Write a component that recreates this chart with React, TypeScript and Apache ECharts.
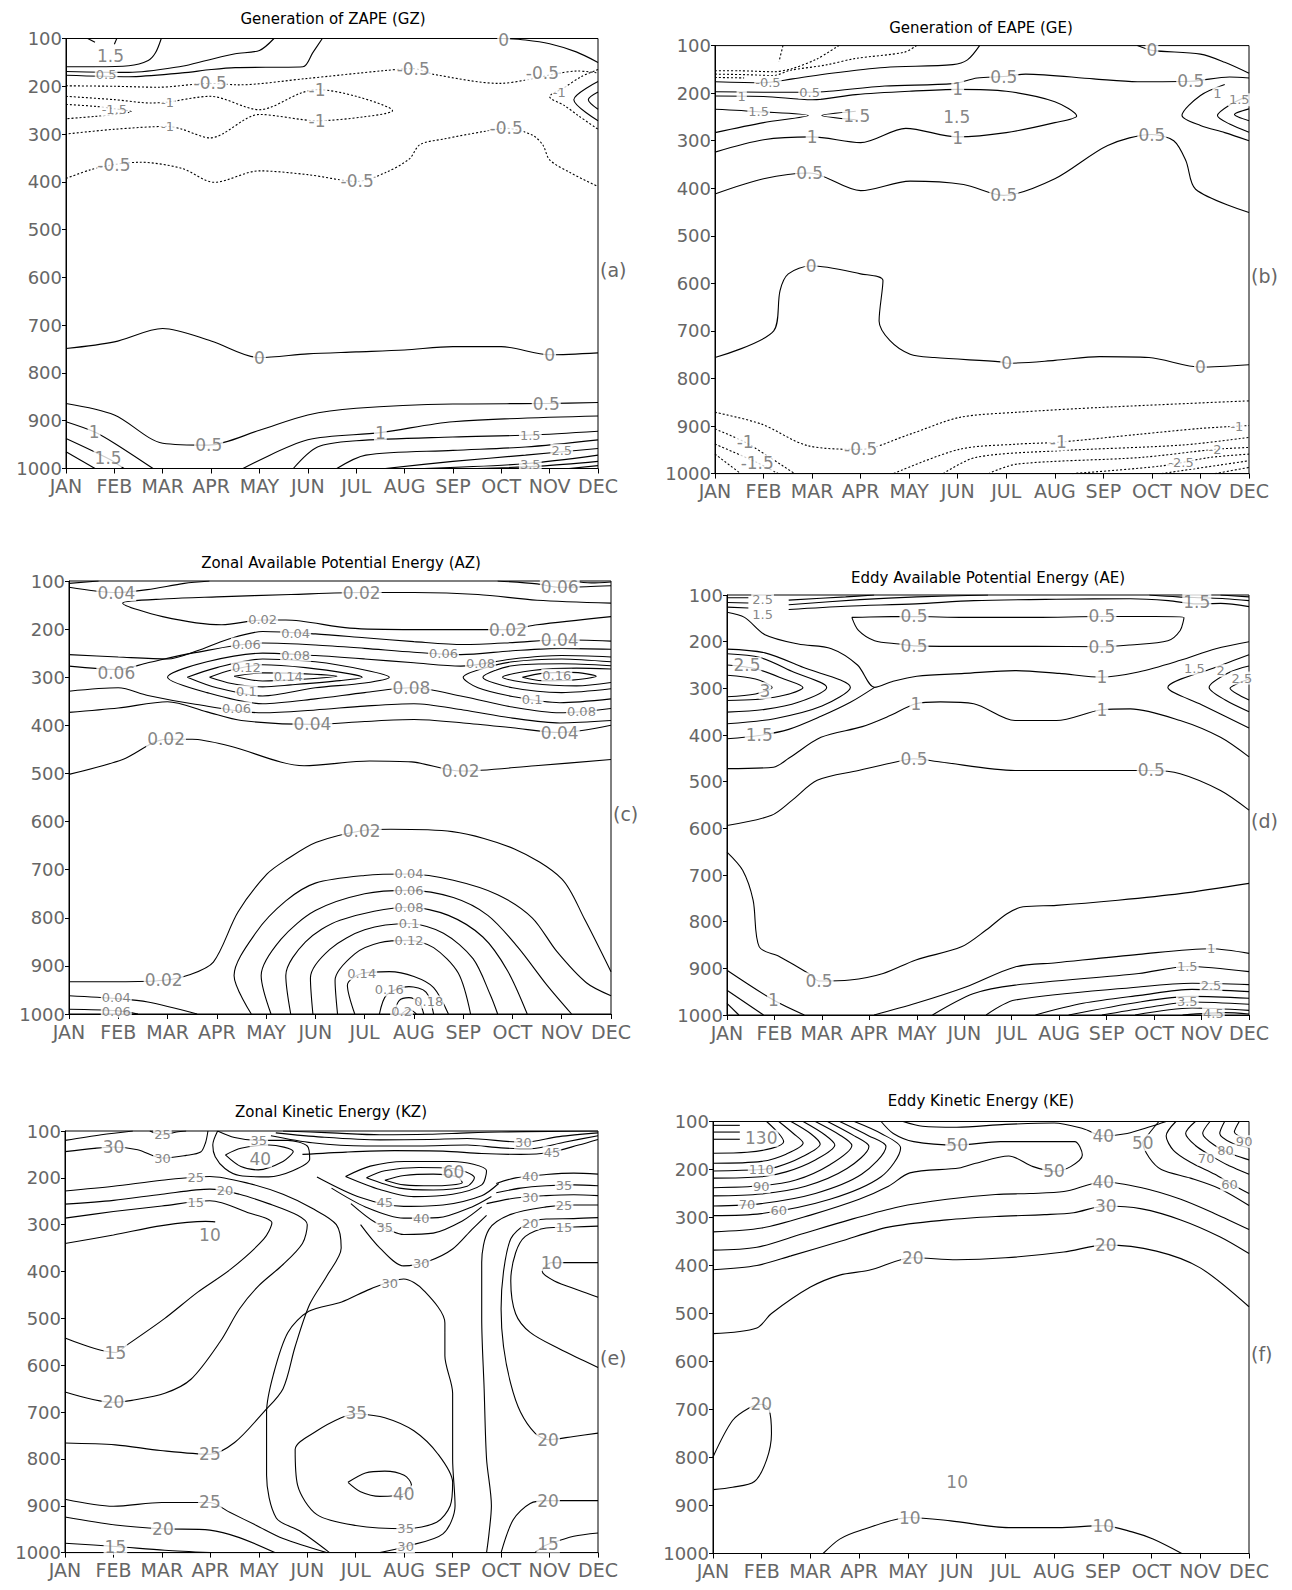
import React, { useEffect, useRef } from 'react';
import * as echarts from 'echarts';

type Contour = { v: number; pts: number[][] };
type Lbl = [number, number, string] | [number, number, string, number];

const MONTHS = ['JAN', 'FEB', 'MAR', 'APR', 'MAY', 'JUN', 'JUL', 'AUG', 'SEP', 'OCT', 'NOV', 'DEC'];
const S = 13; // size of labels in dense stacks

// ---------------- (a) Generation of ZAPE (GZ) ----------------
const gzLines: Contour[] = [
  { v: 2, pts: [[0.45, 100], [0.6, 108]] },
  { v: 2, pts: [[1.05, 100], [1.0, 112]] },
  { v: 1.5, pts: [[0, 159], [0.6, 159], [1.3, 157], [1.7, 146], [1.85, 130], [1.97, 100]] },
  { v: 1, pts: [[0, 169], [1.3, 171], [2.4, 158], [2.9, 146], [3.5, 132], [4.0, 125], [4.3, 100]] },
  { v: 0.5, pts: [[0, 177], [1.3, 180], [2.4, 172], [3.0, 165], [3.5, 161], [4.9, 159], [5.1, 130], [5.3, 100]] },
  { v: -0.5, pts: [[0, 199], [1.0, 200], [1.9, 202], [2.98, 194], [3.56, 197], [4.95, 184], [6.6, 167], [7.18, 163], [7.6, 175], [8.97, 194], [9.56, 186], [10.07, 175], [10.58, 168], [11, 172]] },
  { v: -1, pts: [[0, 221], [1.0, 228], [1.76, 235], [2.1, 233], [2.98, 221], [4.0, 249], [4.86, 214], [5.19, 207], [6.0, 221], [6.75, 251], [6.16, 264], [5.19, 272], [4.0, 259], [2.98, 308], [2.4, 290], [2.1, 284], [1.0, 290], [0, 300]] },
  { v: -1.5, pts: [[0, 238], [0.6, 242], [1.0, 247], [1.35, 253], [1.0, 259], [0.6, 263], [0, 268]] },
  { v: -0.5, pts: [[0, 393], [0.5, 375], [0.99, 364], [1.53, 359], [2.4, 372], [3.06, 401], [4.0, 377], [5.0, 385], [6.02, 399], [6.6, 381], [7.1, 352], [7.32, 322], [7.83, 310], [8.62, 295], [9.1, 288], [9.64, 302], [9.86, 323], [10.0, 354], [10.43, 381], [11, 410]] },
  { v: -1, pts: [[11, 165], [10.65, 180], [10.3, 203], [10.0, 222], [10.3, 240], [10.6, 262], [11, 290]] },
  { v: 0.5, pts: [[11, 190], [10.5, 228], [11, 272]] },
  { v: 1, pts: [[11, 212], [10.8, 228], [11, 248]] },
  { v: 0, pts: [[9.05, 100], [9.5, 103], [10.0, 111], [10.55, 128], [11, 150]] },
  { v: 0, pts: [[0, 749], [1.0, 735], [2.0, 707], [3.0, 733], [4.0, 768], [5.0, 760], [6.0, 756], [7.0, 752], [8.0, 745], [9.0, 745], [10.0, 762], [11, 758]] },
  { v: 0.5, pts: [[0, 864], [1.0, 888], [2.0, 947], [2.95, 951], [4.0, 920], [5.0, 888], [6.0, 874], [8.0, 865], [9.93, 864], [11, 862]] },
  { v: 1, pts: [[0, 902], [0.58, 923], [1.0, 947], [1.8, 1000]] },
  { v: 1, pts: [[3.66, 1000], [5.0, 940], [6.5, 925], [8.0, 902], [11, 890]] },
  { v: 1.5, pts: [[0, 937], [0.87, 979], [1.2, 1000]] },
  { v: 2, pts: [[0, 965], [0.6, 1000]] },
  { v: 1.5, pts: [[4.7, 1000], [5.2, 955], [6.0, 942], [8.0, 934], [9.6, 930], [11, 922]] },
  { v: 2, pts: [[5.6, 1000], [6.2, 972], [8.0, 962], [9.5, 955], [11, 940]] },
  { v: 2.5, pts: [[6.6, 1000], [8.0, 985], [9.5, 972], [11, 958]] },
  { v: 3, pts: [[7.4, 1000], [9.5, 990], [11, 972]] },
  { v: 3.5, pts: [[8.5, 1000], [9.8, 995], [11, 985]] },
  { v: 4, pts: [[10.4, 1000], [11, 994]] },
];
const gzLabels: Lbl[] = [
  [0.92, 137, '1.5'], [0.83, 175, '0.5', S], [2.98, 194, '-0.5'], [7.18, 163, '-0.5'], [9.85, 172, '-0.5'],
  [2.1, 233, '-1', S], [5.19, 207, '-1'], [5.19, 272, '-1'], [2.1, 284, '-1', S], [1.0, 249, '-1.5', S],
  [0.99, 364, '-0.5'], [6.02, 399, '-0.5'], [9.1, 288, '-0.5'], [10.2, 212, '-1', S], [9.05, 104, '0'],
  [4.0, 768, '0'], [10.0, 762, '0'], [2.95, 951, '0.5'], [9.93, 864, '0.5'], [0.58, 923, '1'], [6.5, 925, '1'],
  [0.87, 979, '1.5'], [9.6, 930, '1.5', S], [10.25, 962, '2.5', S], [9.6, 992, '3.5', S],
];

// ---------------- (b) Generation of EAPE (GE) ----------------
const geLines: Contour[] = [
  { v: -1, pts: [[1.4, 100], [1.32, 133]] },
  { v: -0.5, pts: [[0, 153], [0.5, 153], [1.2, 155], [1.6, 148], [2.1, 128], [2.55, 100]] },
  { v: -0.5, pts: [[0, 160], [0.6, 161], [1.2, 163], [1.55, 152], [2.27, 141], [2.9, 127], [3.9, 114], [4.15, 100]] },
  { v: -1, pts: [[0, 167], [0.6, 168]] },
  { v: 0, pts: [[0, 176], [1.0, 178], [1.6, 170], [2.4, 158], [3.5, 146], [4.9, 140], [5.2, 130], [5.45, 100]] },
  { v: 0.5, pts: [[0, 197], [1.0, 198], [1.95, 198], [2.35, 196], [3.5, 185], [4.9, 180], [5.4, 168], [5.95, 165], [6.4, 160], [7.8, 170], [8.7, 176], [9.8, 175], [10.6, 166], [11, 168]] },
  { v: 1, pts: [[0, 206], [1.0, 207], [2.0, 214], [2.9, 203], [4.0, 196], [5.0, 192], [6.0, 196], [7.0, 218], [7.45, 248], [7.0, 262], [6.0, 283], [5.0, 292], [3.93, 274], [3.0, 304], [2.0, 292], [1.0, 298], [0, 324]] },
  { v: 1.5, pts: [[0, 234], [0.9, 239], [1.92, 247], [1.0, 262], [0, 283]] },
  { v: 1.5, pts: [[2.9, 238], [2.2, 247], [2.9, 256]] },
  { v: 0.5, pts: [[0, 412], [1.0, 380], [1.95, 368], [3.0, 405], [4.02, 385], [5.12, 392], [5.95, 415], [7.0, 380], [8.09, 310], [9.0, 287], [9.45, 300], [9.7, 342], [9.9, 402], [11, 451]] },
  { v: 1, pts: [[10.5, 182], [10.0, 205], [9.62, 247], [10.0, 268], [10.5, 283], [11, 300]] },
  { v: 1.5, pts: [[11, 205], [10.6, 225], [10.35, 247], [10.6, 265], [11, 282]] },
  { v: 2, pts: [[11, 233], [10.7, 245], [11, 258]] },
  { v: 0, pts: [[8.7, 100], [9.0, 110], [10.0, 118], [10.5, 135], [11, 158]] },
  { v: 0, pts: [[0, 756], [1.21, 700], [1.34, 615], [1.51, 580], [1.98, 563], [3.0, 580], [3.46, 594], [3.38, 679], [3.6, 720], [4.02, 749], [4.52, 756], [5.88, 765], [6.01, 768], [7.0, 762], [7.92, 754], [8.94, 756], [10.0, 776], [11, 771]] },
  { v: -0.5, pts: [[0, 871], [0.96, 896], [1.9, 941], [3.0, 949], [4.02, 917], [5.03, 882], [6.22, 871], [7.92, 861], [11, 847]] },
  { v: -1, pts: [[0, 906], [0.62, 934], [1.13, 966], [1.64, 1000]] },
  { v: -1, pts: [[3.68, 1000], [5.03, 949], [6.22, 938], [7.07, 934], [8.77, 917], [10.0, 905], [11, 899]] },
  { v: -1.5, pts: [[0, 938], [0.87, 977], [1.3, 1000]] },
  { v: -1.5, pts: [[4.7, 1000], [5.37, 966], [7.07, 952], [9.62, 940], [11, 924]] },
  { v: -2, pts: [[0, 959], [0.53, 1000]] },
  { v: -2, pts: [[5.63, 1000], [6.22, 980], [8.77, 966], [10.3, 949], [11, 945]] },
  { v: -2.5, pts: [[7.36, 1000], [9.19, 984], [10.2, 966], [11, 959]] },
  { v: -3, pts: [[9.2, 1000], [11, 973]] },
  { v: -3.5, pts: [[10.3, 1000], [11, 987]] },
];
const geLabels: Lbl[] = [
  [1.09, 177, '-0.5', S], [1.95, 198, '0.5', S], [0.55, 206, '1', S], [0.9, 239, '1.5', S], [2.92, 247, '1.5'],
  [4.98, 250, '1.5'], [2.0, 292, '1'], [5.0, 294, '1'], [5.0, 192, '1'], [5.95, 165, '0.5'],
  [9.8, 175, '0.5'], [1.95, 368, '0.5'], [5.95, 415, '0.5'], [9.0, 287, '0.5'], [9.0, 110, '0'],
  [10.35, 200, '1', S], [10.8, 214, '1.5', S],
  [1.98, 563, '0'], [6.01, 768, '0'], [10.0, 776, '0'], [3.0, 949, '-0.5'], [0.62, 934, '-1'],
  [7.07, 934, '-1'], [0.87, 977, '-1.5'], [10.75, 901, '-1', S], [10.3, 949, '-2', S], [9.6, 976, '-2.5', S],
];

// ---------------- (c) Zonal Available Potential Energy (AZ) ----------------
const azLines: Contour[] = [
  { v: 0.04, pts: [[0, 113], [0.96, 124], [1.59, 118], [2.34, 105], [2.85, 100]] },
  { v: 0.06, pts: [[0, 105], [0.6, 100]] },
  { v: 0.02, pts: [[11, 146], [9.5, 140], [8.3, 128], [7, 124], [5.94, 124], [4.5, 128], [3.0, 133], [2.0, 137], [1.09, 146], [1.9, 174], [3.1, 191], [3.93, 181], [4.4, 181], [5.7, 198], [7, 201], [8.91, 201], [9.5, 191], [11, 174]] },
  { v: 0.04, pts: [[8.7, 100], [9.5, 106], [9.96, 113], [10.5, 112], [11, 110]] },
  { v: 0.06, pts: [[10.2, 100], [10.6, 104], [11, 102]] },
  { v: 0.04, pts: [[0, 253], [1, 258], [2, 262], [2.6, 245], [3.2, 222], [3.93, 205], [5, 210], [6, 218], [7, 226], [8, 232], [9, 228], [9.96, 222], [11, 225]] },
  { v: 0.06, pts: [[0, 277], [1.0, 284], [1.6, 270], [2.5, 250], [3.93, 229], [5, 233], [6, 240], [7, 248], [7.95, 253], [9, 245], [10, 240], [11, 242]] },
  { v: 0.08, pts: [[11, 258], [10, 255], [9, 262], [7.95, 277], [7, 270], [6, 262], [5, 255], [3.93, 250], [2.8, 268], [2.0, 300], [2.8, 332], [3.93, 355], [5, 345], [6, 332], [6.95, 322], [8, 340], [9, 362], [9.96, 374], [11, 365]] },
  { v: 0.1, pts: [[2.4, 300], [3, 280], [3.93, 262], [5, 268], [6.0, 285], [6.5, 300], [6, 312], [5, 322], [3.93, 339], [3, 322], [2.4, 300]] },
  { v: 0.12, pts: [[2.85, 300], [3.3, 285], [3.93, 274], [4.8, 280], [5.7, 293], [5.95, 300], [5.5, 307], [4.5, 316], [3.93, 320], [3.3, 313], [2.85, 300]] },
  { v: 0.14, pts: [[3.35, 298], [3.93, 291], [4.6, 292], [5.44, 298], [4.6, 305], [3.93, 308], [3.35, 298]] },
  { v: 0.1, pts: [[11, 268], [10, 262], [9, 268], [8.3, 285], [8.0, 300], [8.3, 322], [9, 340], [9.96, 353], [11, 345]] },
  { v: 0.12, pts: [[11, 276], [10, 272], [9, 276], [8.4, 300], [9, 322], [10, 332], [11, 324]] },
  { v: 0.14, pts: [[11, 283], [10.3, 281], [9.4, 286], [8.8, 300], [9.4, 313], [10.3, 318], [11, 311]] },
  { v: 0.16, pts: [[9.2, 300], [9.6, 292], [10.2, 290], [10.7, 298], [10.2, 306], [9.6, 307], [9.2, 300]] },
  { v: 0.06, pts: [[0, 329], [1, 322], [1.6, 338], [2.5, 355], [3.93, 374], [5, 368], [6, 360], [7, 355], [8, 368], [9, 385], [9.96, 395], [11, 390]] },
  { v: 0.04, pts: [[0, 373], [1, 364], [2, 351], [2.8, 372], [3.5, 390], [4.94, 398], [6, 392], [7, 388], [8, 395], [9, 405], [9.96, 415], [11, 400]] },
  { v: 0.02, pts: [[0, 502], [1.09, 471], [1.97, 429], [2.5, 429], [3.26, 443], [4.77, 484], [6.1, 474], [6.95, 476], [7.95, 495], [9.46, 484], [11, 471]] },
  { v: 0.02, pts: [[0, 933], [1.0, 933], [1.92, 930], [2.43, 919], [2.93, 892], [3.43, 788], [4.02, 709], [4.43, 678], [5.02, 643], [5.94, 619], [6.53, 616], [7.78, 621], [9.04, 657], [10.0, 719], [10.46, 802], [11, 912]] },
  { v: 0.04, pts: [[3.7, 1000], [3.35, 920], [3.8, 830], [4.4, 765], [5.0, 728], [6.0, 712], [6.9, 709], [7.8, 722], [8.7, 752], [9.4, 800], [9.9, 870], [10.5, 935], [11, 962]] },
  { v: 0.06, pts: [[4.1, 1000], [3.9, 920], [4.3, 845], [5.0, 785], [6.0, 750], [6.9, 743], [7.8, 758], [8.5, 795], [9.1, 860], [9.7, 940], [10.2, 1000]] },
  { v: 0.08, pts: [[4.5, 1000], [4.4, 920], [4.8, 850], [5.5, 805], [6.9, 778], [7.7, 795], [8.4, 840], [8.9, 910], [9.3, 1000]] },
  { v: 0.1, pts: [[4.95, 1000], [4.9, 925], [5.3, 865], [6.0, 825], [6.9, 812], [7.6, 832], [8.2, 885], [8.55, 960], [8.7, 1000]] },
  { v: 0.12, pts: [[5.45, 1000], [5.4, 930], [5.8, 875], [6.3, 852], [6.9, 847], [7.4, 862], [7.9, 915], [8.15, 1000]] },
  { v: 0.14, pts: [[5.8, 1000], [5.65, 940], [5.94, 916], [6.5, 912], [7.0, 922], [7.4, 945], [7.7, 1000]] },
  { v: 0.16, pts: [[6.3, 1000], [6.45, 960], [6.9, 943], [7.25, 955], [7.4, 1000]] },
  { v: 0.18, pts: [[6.6, 1000], [6.7, 972], [6.9, 966], [7.1, 975], [7.2, 1000]] },
  { v: 0.2, pts: [[6.75, 1000], [6.9, 990], [7.05, 1000]] },
  { v: 0.04, pts: [[0, 962], [0.96, 968], [1.6, 975], [2.6, 1000]] },
  { v: 0.06, pts: [[0, 990], [0.96, 993], [1.4, 1000]] },
];
const azLabels: Lbl[] = [
  [0.96, 124, '0.04'], [5.94, 124, '0.02'], [9.96, 112, '0.06'], [3.93, 181, '0.02', S], [8.91, 201, '0.02'],
  [4.6, 209, '0.04', S], [3.6, 231, '0.06', S], [4.6, 254, '0.08', S], [3.6, 279, '0.12', S], [4.45, 298, '0.14', S],
  [3.6, 330, '0.1', S], [3.4, 364, '0.06', S], [4.94, 398, '0.04'], [0.96, 291, '0.06'], [9.96, 222, '0.04'],
  [7.6, 251, '0.06', S], [8.35, 271, '0.08', S], [6.95, 322, '0.08'], [9.9, 296, '0.16', S], [9.4, 346, '0.1', S],
  [10.4, 371, '0.08', S], [9.96, 415, '0.04'], [1.97, 429, '0.02'], [7.95, 495, '0.02'],
  [5.94, 619, '0.02'], [6.9, 709, '0.04', S], [6.9, 743, '0.06', S], [6.9, 778, '0.08', S], [6.9, 812, '0.1', S],
  [6.9, 847, '0.12', S], [5.94, 916, '0.14', S], [6.5, 950, '0.16', S], [7.3, 975, '0.18', S], [6.75, 994, '0.2', S],
  [1.92, 930, '0.02'], [0.96, 966, '0.04', S], [0.96, 994, '0.06', S],
];

// ---------------- (d) Eddy Available Potential Energy (AE) ----------------
const aeLines: Contour[] = [
  { v: 2.5, pts: [[0, 106], [0.45, 106]] },
  { v: 2.5, pts: [[1.3, 111], [2.5, 104], [3.1, 100]] },
  { v: 2, pts: [[0, 116], [0.45, 117]] },
  { v: 2, pts: [[1.3, 121], [2.8, 110], [4.0, 104], [5.5, 100]] },
  { v: 1.5, pts: [[0, 126], [0.45, 128]] },
  { v: 1.5, pts: [[1.3, 131], [2.5, 124], [3.98, 119], [5.2, 112], [6.94, 109], [8.5, 108], [9.3, 112], [9.9, 119], [10.4, 118], [11, 125]] },
  { v: 2, pts: [[8.9, 100], [9.5, 104], [10.0, 106], [10.5, 108], [11, 112]] },
  { v: 2.5, pts: [[10.4, 100], [11, 104]] },
  { v: 0.5, pts: [[2.63, 148], [3.0, 147], [3.94, 146], [5.0, 148], [6.5, 148], [7.9, 146], [9.0, 146], [9.63, 148], [9.55, 176], [9.29, 198], [8.5, 207], [7.9, 211], [6.5, 210], [5.0, 210], [3.94, 209], [3.63, 205], [3.11, 198], [2.77, 176], [2.63, 148]] },
  { v: 1, pts: [[0, 137], [0.37, 148], [0.8, 185], [1.5, 205], [2.2, 215], [2.75, 250], [3.11, 298], [3.5, 285], [4.0, 274], [5.0, 268], [6.07, 262], [7.0, 268], [7.9, 276], [8.67, 265], [9.55, 240], [10.3, 215], [11, 200]] },
  { v: 1.5, pts: [[0, 408], [0.68, 401], [1.3, 388], [1.98, 360], [2.6, 330], [3.11, 298]] },
  { v: 1, pts: [[0, 472], [0.98, 469], [1.3, 450], [1.98, 405], [2.85, 382], [3.4, 360], [3.98, 333], [4.5, 329], [5.2, 333], [6.07, 369], [6.94, 369], [7.9, 346], [8.5, 344], [9.55, 369], [10.4, 405], [11, 447]] },
  { v: 1.5, pts: [[0, 216], [0.8, 224], [1.6, 255], [2.6, 298], [2.0, 338], [1.0, 365], [0, 376]] },
  { v: 2, pts: [[0, 226], [0.7, 234], [1.4, 265], [2.1, 298], [1.5, 330], [0.8, 345], [0, 351]] },
  { v: 2.5, pts: [[0, 250], [0.6, 258], [1.2, 280], [1.6, 298], [1.2, 315], [0.6, 324], [0, 326]] },
  { v: 3, pts: [[0, 272], [0.6, 280], [0.95, 298], [0.6, 312], [0, 318]] },
  { v: 1.5, pts: [[11, 228], [10.3, 255], [9.29, 298], [10.0, 335], [11, 385]] },
  { v: 2, pts: [[11, 252], [10.6, 265], [10.16, 298], [10.5, 325], [11, 350]] },
  { v: 2.5, pts: [[11, 280], [10.75, 290], [10.6, 300], [10.8, 315], [11, 325]] },
  { v: 0.5, pts: [[0, 594], [0.94, 572], [1.37, 540], [1.9, 497], [2.77, 476], [3.46, 460], [3.94, 451], [4.5, 458], [6.07, 476], [7.8, 476], [8.94, 476], [9.55, 483], [10.4, 519], [11, 561]] },
  { v: 0.5, pts: [[0, 651], [0.33, 690], [0.55, 754], [0.68, 854], [1.11, 875], [1.72, 911], [1.94, 927], [2.59, 925], [3.29, 911], [3.98, 882], [4.94, 854], [5.46, 818], [5.9, 783], [6.24, 768], [6.94, 765], [8.24, 754], [9.55, 740], [11, 718]] },
  { v: 1, pts: [[0, 904], [0.98, 968], [1.63, 1000]] },
  { v: 1, pts: [[3.1, 1000], [3.98, 975], [5.03, 940], [6.07, 897], [6.94, 888], [8.68, 870], [10.2, 858], [11, 868]] },
  { v: 1.5, pts: [[0, 947], [0.77, 1000]] },
  { v: 1.5, pts: [[4.33, 1000], [5.2, 954], [6.07, 936], [8.68, 911], [9.7, 896], [11, 907]] },
  { v: 2, pts: [[0, 975], [0.25, 1000]] },
  { v: 2, pts: [[5.46, 1000], [6.07, 968], [8.68, 940], [9.8, 932], [11, 935]] },
  { v: 2.5, pts: [[6.5, 1000], [7.5, 975], [8.7, 958], [9.8, 945], [11, 950]] },
  { v: 3, pts: [[7.2, 1000], [8.7, 972], [9.8, 960], [11, 964]] },
  { v: 3.5, pts: [[7.9, 1000], [8.8, 985], [9.8, 972], [11, 977]] },
  { v: 4, pts: [[8.6, 1000], [9.8, 985], [11, 990]] },
  { v: 4.5, pts: [[9.6, 1000], [10.5, 995], [11, 998]] },
];
const aeLabels: Lbl[] = [
  [0.75, 110, '2.5', S], [0.75, 142, '1.5', S], [9.9, 116, '1.5'], [3.94, 146, '0.5'], [7.9, 146, '0.5'],
  [3.94, 209, '0.5'], [7.9, 211, '0.5'], [0.42, 251, '2.5'], [0.8, 305, '3'], [0.68, 401, '1.5'],
  [3.98, 333, '1'], [7.9, 346, '1'], [7.9, 276, '1'], [9.85, 258, '1.5', S], [10.4, 262, '2', S], [10.85, 278, '2.5', S],
  [3.94, 451, '0.5'], [8.94, 476, '0.5'], [1.94, 927, '0.5'], [0.98, 968, '1'], [10.2, 858, '1', S],
  [9.7, 896, '1.5', S], [10.2, 937, '2.5', S], [9.7, 970, '3.5', S], [10.25, 996, '4.5', S],
];

// ---------------- (e) Zonal Kinetic Energy (KZ) ----------------
const kzLines: Contour[] = [
  { v: 25, pts: [[0, 120], [0.75, 108], [1.4, 100]] },
  { v: 25, pts: [[1.75, 100], [2.01, 108], [2.3, 102], [2.5, 100]] },
  { v: 30, pts: [[0, 144], [0.6, 137], [1.0, 134], [1.5, 140], [2.01, 158], [2.5, 152], [2.8, 145], [2.9, 125], [2.95, 100]] },
  { v: 40, pts: [[3.31, 151], [3.63, 137], [4.21, 130], [4.71, 144], [4.5, 165], [3.99, 183], [3.63, 176], [3.31, 151]] },
  { v: 35, pts: [[3.15, 100], [3.5, 114], [4.0, 120], [4.6, 120], [5.0, 132], [5.05, 160], [4.7, 185], [4.2, 198], [3.6, 195], [3.3, 180], [3.1, 155], [3.05, 130], [3.15, 100]] },
  { v: 25, pts: [[0, 228], [1, 218], [2, 205], [2.99, 197], [3.8, 212], [4.5, 235], [5.1, 265], [5.6, 300], [5.7, 350], [5.4, 410], [5.05, 470], [4.75, 560], [4.5, 650], [4.1, 700], [3.5, 765], [2.99, 790], [1.97, 782], [1.04, 770], [0, 766]] },
  { v: 20, pts: [[0, 256], [1, 248], [2.0, 235], [2.99, 224], [3.6, 235], [4.2, 255], [4.8, 280], [5.0, 300], [4.9, 340], [4.5, 385], [4.0, 430], [3.6, 480], [3.2, 550], [2.6, 630], [2.06, 660], [1.38, 675], [1.0, 679], [0, 657]] },
  { v: 15, pts: [[0, 286], [1.0, 272], [2.0, 260], [2.99, 249], [3.8, 275], [4.27, 296], [4.1, 331], [3.42, 395], [2.74, 444], [2.06, 500], [1.29, 556], [1.04, 573], [0, 542]] },
  { v: 10, pts: [[0, 340], [1.0, 322], [2.0, 302], [2.9, 293], [3.1, 294]] },
  { v: 25, pts: [[0, 886], [1.0, 901], [2.0, 893], [2.99, 893], [3.4, 914], [3.95, 942], [4.5, 970], [5.4, 1000]] },
  { v: 40, pts: [[5.84, 850], [6.2, 830], [6.6, 826], [7.0, 835], [7.15, 855], [6.99, 875], [6.5, 880], [6.1, 870], [5.84, 850]] },
  { v: 35, pts: [[6.01, 703], [6.6, 712], [7.2, 740], [7.7, 790], [8.0, 850], [7.95, 900], [7.67, 935], [7.03, 949], [6.0, 942], [5.2, 919], [4.8, 856], [4.75, 780], [5.2, 740], [5.7, 712], [6.01, 703]] },
  { v: 30, pts: [[5.46, 1000], [4.85, 954], [4.36, 926], [4.16, 835], [4.16, 700], [4.3, 620], [4.6, 530], [5.03, 485], [5.71, 465], [6.31, 437], [6.99, 416], [7.4, 440], [7.84, 510], [7.84, 580], [8.0, 660], [8.0, 800], [8.05, 900], [7.8, 960], [7.03, 987], [6.5, 1000]] },
  { v: 30, pts: [[6.1, 300], [6.5, 350], [6.99, 388], [7.5, 378], [8.0, 352], [8.4, 310], [8.7, 280]] },
  { v: 35, pts: [[5.9, 255], [6.4, 295], [6.99, 321], [7.6, 318], [8.2, 292], [8.6, 262]] },
  { v: 40, pts: [[5.5, 222], [6.2, 262], [6.99, 286], [7.7, 285], [8.4, 262], [8.8, 240]] },
  { v: 45, pts: [[5.2, 198], [6.1, 242], [6.99, 261], [7.8, 258], [8.6, 238], [8.95, 212]] },
  { v: 50, pts: [[5.79, 197], [6.3, 175], [7.0, 165], [8.0, 165], [8.7, 185], [8.6, 215], [8.0, 235], [7.2, 240], [6.5, 225], [5.79, 197]] },
  { v: 55, pts: [[6.22, 200], [6.6, 185], [7.3, 178], [8.0, 180], [8.45, 200], [8.3, 218], [7.6, 226], [6.9, 222], [6.22, 200]] },
  { v: 60, pts: [[6.6, 205], [7.0, 195], [7.6, 192], [8.1, 198], [8.2, 210], [7.6, 217], [7.0, 215], [6.6, 205]] },
  { v: 10, pts: [[4.5, 100], [5.5, 104], [6.5, 108], [7.5, 107], [8.3, 104], [9.0, 102], [10.0, 101], [11, 100]] },
  { v: 20, pts: [[4.35, 104], [5.3, 113], [6.5, 119], [7.5, 118], [8.3, 116], [9.46, 124], [10.2, 112], [11, 104]] },
  { v: 30, pts: [[4.25, 110], [5.1, 125], [6.2, 132], [7.3, 132], [8.3, 130], [9.0, 136], [9.6, 138], [10.3, 124], [11, 110]] },
  { v: 40, pts: [[4.9, 150], [5.8, 145], [6.8, 142], [7.8, 143], [8.6, 148], [9.4, 150], [10.0, 146], [10.6, 130], [11, 118]] },
  { v: 40, pts: [[8.9, 212], [9.3, 200], [9.93, 193], [10.5, 190], [11, 192]] },
  { v: 35, pts: [[8.9, 232], [9.4, 222], [9.93, 217], [10.5, 215], [11, 217]] },
  { v: 30, pts: [[8.7, 255], [9.3, 243], [9.93, 238], [10.5, 236], [11, 238]] },
  { v: 25, pts: [[11, 258], [10.5, 258], [9.93, 262], [9.2, 278], [8.75, 310], [8.6, 380], [8.6, 500], [8.65, 650], [8.7, 800], [8.8, 900], [8.75, 960], [8.7, 1000]] },
  { v: 20, pts: [[11, 285], [10.5, 287], [9.93, 288], [9.5, 300], [9.2, 330], [9.05, 400], [9.0, 480], [9.05, 560], [9.2, 640], [9.4, 700], [9.7, 745], [9.97, 759], [10.5, 752], [11, 745]] },
  { v: 15, pts: [[11, 303], [10.5, 305], [9.93, 307], [9.5, 325], [9.3, 360], [9.2, 420], [9.3, 490], [9.6, 530], [10.2, 565], [10.7, 590], [11, 605]] },
  { v: 10, pts: [[11, 381], [10.5, 381], [10.04, 381], [9.85, 400], [10.1, 420], [10.6, 440], [11, 455]] },
  { v: 20, pts: [[9.0, 1000], [9.25, 930], [9.6, 895], [9.97, 889], [11, 889]] },
  { v: 15, pts: [[9.7, 1000], [9.85, 988], [9.97, 982], [10.5, 965], [11, 958]] },
  { v: 20, pts: [[0, 924], [1.04, 941], [2.02, 949], [2.99, 952], [3.6, 968], [4.33, 1000]] },
  { v: 15, pts: [[0, 980], [1.04, 987], [2.06, 995], [3.0, 1000]] },
];
const kzLabels: Lbl[] = [
  [1.0, 134, '30'], [2.01, 158, '30', S], [2.01, 107, '25', S], [4.0, 120, '35', S], [4.03, 160, '40'],
  [2.7, 200, '25', S], [3.3, 227, '20', S], [2.7, 252, '15', S], [2.99, 321, '10'], [1.04, 573, '15'],
  [1.0, 679, '20'], [2.99, 790, '25'], [2.99, 893, '25'], [2.02, 949, '20'], [1.04, 987, '15'],
  [6.01, 703, '35'], [6.99, 875, '40'], [7.03, 949, '35', S], [7.03, 987, '30', S], [6.7, 425, '30', S],
  [7.35, 382, '30', S], [6.6, 307, '35', S], [7.35, 286, '40', S], [6.6, 253, '45', S], [8.02, 188, '60'],
  [9.46, 124, '30', S], [10.05, 146, '45', S], [9.6, 198, '40', S], [10.3, 216, '35', S], [9.6, 241, '30', S],
  [10.3, 259, '25', S], [9.6, 297, '20', S], [10.3, 306, '15', S], [10.04, 381, '10'], [9.97, 759, '20'],
  [9.97, 889, '20'], [9.97, 982, '15'],
];

// ---------------- (f) Eddy Kinetic Energy (KE) ----------------
const keLines: Contour[] = [
  { v: 140, pts: [[0, 108], [0.55, 108]] },
  { v: 140, pts: [[0, 122], [0.55, 122]] },
  { v: 140, pts: [[0, 137], [0.55, 137]] },
  { v: 130, pts: [[1.1, 100], [1.35, 125], [1.45, 142], [1.2, 156], [0.7, 164], [0, 166]] },
  { v: 120, pts: [[1.35, 100], [1.65, 125], [1.85, 145], [1.5, 168], [1.0, 183], [0, 187]] },
  { v: 110, pts: [[1.6, 100], [2.0, 125], [2.2, 147], [1.8, 175], [1.3, 195], [0.99, 200], [0, 203]] },
  { v: 100, pts: [[1.85, 100], [2.3, 128], [2.5, 149], [2.1, 180], [1.5, 205], [0.99, 215], [0, 218]] },
  { v: 90, pts: [[2.1, 100], [2.6, 128], [2.85, 150], [2.4, 190], [1.7, 222], [0.99, 234], [0, 238]] },
  { v: 80, pts: [[2.35, 100], [2.9, 130], [3.2, 152], [2.75, 198], [1.9, 235], [0.99, 251], [0, 255]] },
  { v: 70, pts: [[2.6, 100], [3.2, 130], [3.55, 152], [3.05, 210], [2.1, 250], [0.99, 271], [0, 276]] },
  { v: 60, pts: [[2.9, 100], [3.45, 125], [3.85, 155], [3.45, 215], [2.4, 262], [0.99, 292], [0, 296]] },
  { v: 50, pts: [[0, 330], [1.0, 322], [2.0, 295], [3.0, 262], [3.6, 235], [4.04, 207], [5.05, 197], [5.39, 187], [6.07, 172], [6.57, 194], [7.0, 204], [7.34, 194], [7.58, 170], [7.42, 142], [6.5, 142], [5.9, 142], [5.01, 149], [4.12, 142], [3.7, 125], [3.45, 100]] },
  { v: 40, pts: [[3.9, 100], [4.3, 110], [5.0, 112], [6.0, 106], [7.0, 103], [7.6, 115], [8.01, 130], [8.5, 125], [9.0, 110], [9.3, 100]] },
  { v: 40, pts: [[0, 368], [0.9, 362], [1.8, 335], [2.8, 305], [3.8, 278], [4.8, 262], [5.8, 252], [6.5, 250], [7.2, 246], [8.01, 226], [8.8, 238], [9.6, 262], [10.3, 292], [11, 325]] },
  { v: 30, pts: [[0, 409], [0.9, 400], [1.6, 380], [2.6, 350], [3.6, 320], [4.8, 305], [5.8, 298], [6.8, 294], [7.4, 290], [8.06, 276], [8.8, 282], [9.6, 305], [10.4, 340], [11, 375]] },
  { v: 20, pts: [[0, 542], [0.9, 530], [1.2, 500], [2.0, 445], [2.6, 420], [3.2, 410], [4.1, 384], [5.0, 388], [6.0, 384], [7.2, 372], [8.06, 357], [9.1, 370], [10.0, 405], [11, 486]] },
  { v: 50, pts: [[9.15, 100], [8.95, 125], [8.82, 144], [8.95, 175], [9.2, 200], [9.8, 218], [10.4, 240], [11, 275]] },
  { v: 60, pts: [[9.5, 100], [9.3, 130], [9.45, 160], [9.8, 185], [10.3, 210], [10.6, 228], [11, 250]] },
  { v: 70, pts: [[9.9, 100], [9.7, 125], [9.9, 150], [10.2, 170], [10.55, 190], [11, 210]] },
  { v: 80, pts: [[10.2, 100], [10.05, 125], [10.3, 150], [10.7, 170], [11, 180]] },
  { v: 90, pts: [[10.5, 100], [10.4, 125], [10.65, 145], [11, 155]] },
  { v: 100, pts: [[10.8, 100], [10.7, 122], [11, 138]] },
  { v: 20, pts: [[0, 799], [0.4, 723], [0.74, 697], [0.99, 689], [1.15, 700], [1.2, 750], [1.1, 805], [0.85, 850], [0.4, 862], [0, 867]] },
  { v: 10, pts: [[2.26, 1000], [2.6, 970], [3.02, 952], [4.04, 925], [4.88, 932], [6.07, 946], [7.08, 946], [8.01, 942], [8.6, 955], [9.03, 970], [9.62, 1000]] },
];
const keLabels: Lbl[] = [
  [0.99, 135, '130'], [0.99, 200, '110', S], [0.99, 236, '90', S], [0.7, 273, '70', S], [1.35, 286, '60', S],
  [5.01, 149, '50'], [7.0, 204, '50'], [8.01, 130, '40'], [8.01, 226, '40'], [8.06, 276, '30'],
  [4.1, 384, '20'], [8.06, 357, '20'], [8.82, 144, '50'], [10.12, 178, '70', S], [10.52, 160, '80', S],
  [10.9, 142, '90', S], [10.6, 232, '60', S], [0.99, 689, '20'], [5.01, 850, '10'], [4.04, 925, '10'],
  [8.01, 942, '10'],
];

const PANELS = [
  { title: 'Generation of ZAPE (GZ)', tag: '(a)', lines: gzLines, labels: gzLabels, left: 66, top: 38.5, width: 532, height: 430, tx: 333, ty: 19 },
  { title: 'Generation of EAPE (GE)', tag: '(b)', lines: geLines, labels: geLabels, left: 715, top: 45.6, width: 534, height: 428, tx: 981, ty: 28 },
  { title: 'Zonal Available Potential Energy (AZ)', tag: '(c)', lines: azLines, labels: azLabels, left: 69, top: 581, width: 542, height: 433, tx: 341, ty: 563 },
  { title: 'Eddy Available Potential Energy (AE)', tag: '(d)', lines: aeLines, labels: aeLabels, left: 727, top: 595, width: 522, height: 420, tx: 988, ty: 578 },
  { title: 'Zonal Kinetic Energy (KZ)', tag: '(e)', lines: kzLines, labels: kzLabels, left: 65, top: 1131, width: 533, height: 421.6, tx: 331, ty: 1112 },
  { title: 'Eddy Kinetic Energy (KE)', tag: '(f)', lines: keLines, labels: keLabels, left: 713, top: 1121.5, width: 536, height: 432, tx: 981, ty: 1101 },
];

const FONT = 'DejaVu Sans';
const GREY = '#666';

export default function App() {
  const ref = useRef<HTMLDivElement>(null);
  useEffect(() => {
    if (!ref.current) return;
    const chart = echarts.init(ref.current, null, { renderer: 'svg' });
    const grid: any[] = [];
    const xAxis: any[] = [];
    const yAxis: any[] = [];
    const series: any[] = [];
    const graphic: any[] = [];
    PANELS.forEach((p, i) => {
      grid.push({ left: p.left, top: p.top, width: p.width, height: p.height, show: true, borderColor: '#000', borderWidth: 1, backgroundColor: 'transparent' });
      xAxis.push({
        gridIndex: i, type: 'value', min: 0, max: 11, interval: 1,
        axisLine: { show: true, onZero: false, lineStyle: { color: '#000', width: 1 } },
        axisTick: { show: true, length: 5, lineStyle: { color: '#000' } },
        axisLabel: { formatter: (v: number) => MONTHS[Math.round(v)] ?? '', color: GREY, fontSize: 19, fontFamily: FONT, margin: 8, showMinLabel: true, showMaxLabel: true },
        splitLine: { show: false },
      });
      yAxis.push({
        gridIndex: i, type: 'value', inverse: true, min: 100, max: 1000, interval: 100,
        axisLine: { show: true, onZero: false, lineStyle: { color: '#000', width: 1 } },
        axisTick: { show: true, length: 4, lineStyle: { color: '#000' } },
        axisLabel: { formatter: (v: number) => String(v), color: GREY, fontSize: 18, fontFamily: FONT, margin: 4, showMinLabel: true, showMaxLabel: true },
        splitLine: { show: false },
      });
      p.lines.forEach((c) => {
        series.push({
          type: 'line', xAxisIndex: i, yAxisIndex: i, data: c.pts, showSymbol: false, symbol: 'none',
          smooth: 0.3, silent: true, z: 2, clip: true,
          lineStyle: { color: '#000', width: 1.1, type: c.v < 0 ? [2, 2] : 'solid' },
        });
      });
      series.push({
        type: 'scatter', xAxisIndex: i, yAxisIndex: i, silent: true, z: 5, symbolSize: 1,
        itemStyle: { color: 'rgba(0,0,0,0)' },
        data: p.labels.map((l) => ({ value: [l[0], l[1]], name: l[2], label: { fontSize: l[3] ?? 17 } })),
        label: { show: true, position: 'inside', formatter: '{b}', color: GREY, fontSize: 17, fontFamily: FONT, backgroundColor: '#fff', padding: [0, 1] },
      });
      graphic.push({ type: 'text', x: p.tx, y: p.ty, silent: true, style: { text: p.title, fill: '#000', fontSize: 15, fontFamily: FONT, align: 'center', verticalAlign: 'middle' } });
      graphic.push({ type: 'text', x: p.left + p.width + 2, y: p.top + p.height * (485 / 900), silent: true, style: { text: p.tag, fill: GREY, fontSize: 19, fontFamily: FONT, align: 'left', verticalAlign: 'middle' } });
    });
    chart.setOption({ animation: false, backgroundColor: '#fff', grid, xAxis, yAxis, series, graphic });
    return () => chart.dispose();
  }, []);
  return <div ref={ref} style={{ position: 'absolute', left: 0, top: 0, width: 1292, height: 1590, background: '#fff' }} />;
}
